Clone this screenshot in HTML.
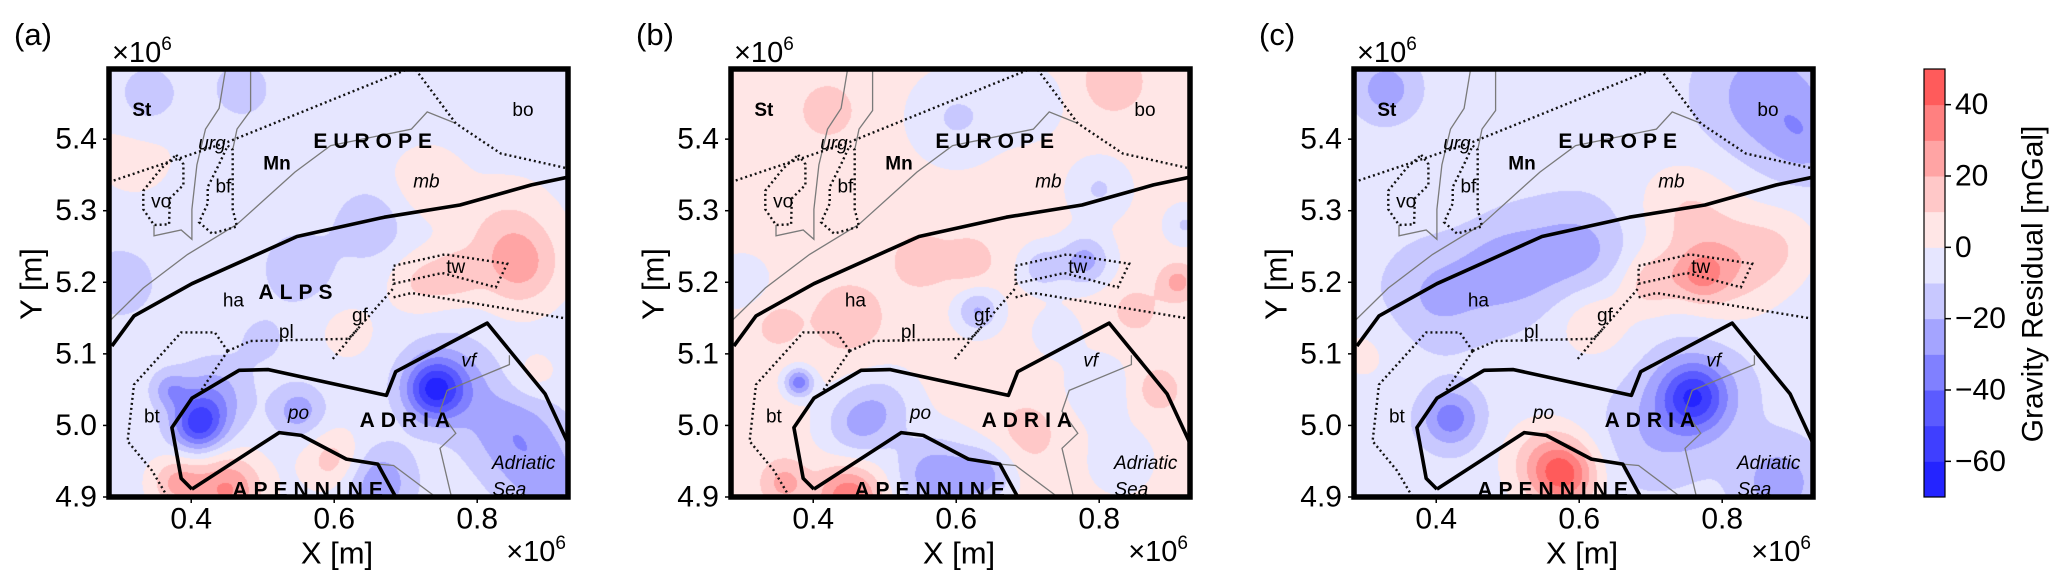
<!DOCTYPE html>
<html><head><meta charset="utf-8"><style>
html,body{margin:0;padding:0;background:#fff;}
#wrap{position:relative;width:2067px;height:586px;overflow:hidden;font-family:"Liberation Sans",sans-serif;}
canvas{position:absolute;}
svg{position:absolute;left:0;top:0;}
</style></head><body>
<div id="wrap">
<svg id="svg" width="2067" height="586"></svg>
</div>
<script>
// ---- field data (blobs: x [1e6 m], y [1e6 m], amplitude [mGal], radius [1e6 m]) ----
const aBase = -4;
const aX   = [0.32,0.86,0.84,0.73,0.72,0.77,0.74,0.76,0.41,0.43,0.55,0.45,0.38,0.60,0.66,0.85,0.90,0.37,0.55,0.65,0.30,0.34,0.47,0.88,0.62,0.50];
const aY   = [5.38,5.22,5.27,5.34,5.20,5.21,5.05,5.06,5.00,5.04,5.02,4.91,4.92,4.95,4.92,4.99,4.92,5.05,5.22,5.28,5.20,5.46,5.47,5.07,5.13,5.12];
const aAmp = [6,22,14,12,15,15,-45,-20,-45,-22,-22,35,25,20,-25,-22,-18,-20,-14,-14,-14,-15,-12,10,8,-8];
const aR   = [0.06,0.04,0.05,0.035,0.03,0.025,0.028,0.045,0.026,0.035,0.025,0.035,0.025,0.03,0.035,0.045,0.045,0.018,0.035,0.035,0.035,0.03,0.03,0.025,0.03,0.03];

const bBase = 4;
const bX   = [0.60,0.70,0.80,0.78,0.72,0.63,0.38,0.46,0.50,0.57,0.64,0.45,0.36,0.91,0.85,0.45,0.55,0.82,0.42,0.92,0.80,0.83,0.70,0.88,0.30,0.62,0.35,0.74];
const bY   = [5.43,5.45,5.33,5.23,5.22,5.16,5.06,5.00,5.03,4.93,4.93,4.90,4.92,5.20,5.16,5.15,5.23,5.48,5.44,5.28,5.05,4.95,4.99,5.05,5.20,5.23,5.14,5.13];
const bAmp = [-15,-12,-15,-28,-20,-25,-40,-22,-15,-30,-25,35,20,20,10,14,12,15,15,-15,-12,-10,10,12,-10,12,10,-10];
const bR   = [0.045,0.035,0.03,0.025,0.022,0.022,0.014,0.035,0.035,0.04,0.028,0.03,0.022,0.018,0.025,0.035,0.03,0.03,0.025,0.02,0.035,0.035,0.035,0.025,0.03,0.025,0.025,0.025];

const cBase = -6;
const cX   = [0.86,0.92,0.33,0.75,0.81,0.88,0.77,0.70,0.62,0.50,0.60,0.40,0.76,0.76,0.42,0.58,0.55,0.88,0.70,0.30,0.42];
const cY   = [5.46,5.40,5.47,5.30,5.22,5.25,5.21,5.20,5.15,5.22,5.24,5.18,5.04,5.04,5.01,4.93,4.95,4.92,4.98,5.10,5.35];
const cAmp = [-20,-15,-20,15,20,12,25,20,15,-18,-18,-15,-40,-15,-30,40,20,-20,-10,8,6];
const cR   = [0.06,0.04,0.03,0.05,0.05,0.04,0.025,0.03,0.04,0.05,0.05,0.05,0.032,0.055,0.028,0.032,0.04,0.04,0.05,0.04,0.04];

// colour levels
const levelEdges = [-70,-60,-50,-40,-30,-20,-10,0,10,20,30,40,50];
const levelColors = ['#2424ff','#3f3fff','#5b5bff','#8080ff','#a4a4ff','#c8c8ff','#e6e6ff','#ffe6e6','#ffc8c8','#ffa4a4','#ff8080','#ff5b5b'];
const cbTicks = [40,20,0,-20,-40,-60];
const xTicks = [0.4,0.6,0.8];
const yTicks = [5.4,5.3,5.2,5.1,5.0,4.9];

// ---- map overlays (data coords) ----
const alpsFront = [[0.289,5.111],[0.320,5.153],[0.401,5.198],[0.548,5.264],[0.670,5.291],[0.776,5.308],[0.876,5.336],[0.927,5.347]];
const adriaLine = [[0.401,4.911],[0.386,4.926],[0.373,4.997],[0.401,5.038],[0.467,5.077],[0.508,5.078],[0.673,5.042],[0.686,5.075],[0.814,5.143],[0.895,5.044],[0.927,4.975]];
const apennLine = [[0.401,4.911],[0.523,4.990],[0.554,4.986],[0.617,4.953],[0.661,4.946],[0.686,4.900]];
const dotLines = [
 [[0.285,5.340],[0.451,5.396],[0.701,5.497]],
 [[0.714,5.497],[0.770,5.422],[0.833,5.380],[0.927,5.359]],
 [[0.379,5.378],[0.389,5.365],[0.389,5.336],[0.370,5.317],[0.369,5.281],[0.348,5.280],[0.333,5.302],[0.333,5.328],[0.358,5.359],[0.379,5.378]],
 [[0.451,5.391],[0.458,5.385],[0.458,5.302],[0.464,5.278],[0.429,5.268],[0.411,5.284],[0.423,5.310],[0.423,5.333],[0.439,5.365],[0.451,5.391]],
 [[0.683,5.223],[0.755,5.239],[0.842,5.226],[0.826,5.193],[0.751,5.213],[0.683,5.198],[0.683,5.223]],
 [[0.598,5.093],[0.633,5.135],[0.683,5.192]],
 [[0.683,5.179],[0.708,5.185],[0.927,5.149]],
 [[0.451,5.104],[0.483,5.118],[0.620,5.121],[0.633,5.135]],
 [[0.451,5.104],[0.433,5.130],[0.386,5.130],[0.320,5.057],[0.311,4.978],[0.345,4.937],[0.367,4.900]],
 [[0.451,5.104],[0.414,5.049]]
];
const greyLines = [
 [[0.448,5.497],[0.439,5.443],[0.420,5.414],[0.408,5.364],[0.401,5.302],[0.401,5.260],[0.386,5.273],[0.348,5.265],[0.348,5.280]],
 [[0.483,5.497],[0.483,5.440],[0.464,5.414],[0.458,5.385]],
 [[0.464,5.281],[0.395,5.239],[0.333,5.192],[0.285,5.145]],
 [[0.464,5.281],[0.545,5.354],[0.595,5.391],[0.708,5.414],[0.730,5.438],[0.770,5.422]],
 [[0.845,5.098],[0.845,5.085],[0.758,5.049],[0.748,5.020],[0.770,4.989],[0.748,4.968],[0.764,4.900]],
 [[0.661,4.946],[0.683,4.944],[0.742,4.900]]
];
const mapLabels = [
 ['St',0.331,5.440,'b'],['urg',0.429,5.393,'i'],['EUROPE',0.658,5.397,'B'],['Mn',0.520,5.365,'b'],['bo',0.864,5.440,'n'],
 ['vo',0.358,5.312,'n'],['bf',0.445,5.333,'n'],['mb',0.729,5.340,'i'],['tw',0.770,5.221,'n'],['ALPS',0.550,5.186,'B'],
 ['ha',0.459,5.174,'n'],['gf',0.636,5.153,'n'],['pl',0.533,5.130,'n'],['vf',0.788,5.090,'i'],['bt',0.345,5.012,'n'],
 ['po',0.550,5.017,'i'],['ADRIA',0.703,5.007,'B'],['Adriatic',0.865,4.947,'i'],['Sea',0.845,4.910,'i'],['APENNINE',0.567,4.910,'B']
];

const panels = [
 {off:0,   tag:'(a)', name:'a', base:aBase, X:aX, Y:aY, A:aAmp, R:aR, alps:true},
 {off:622, tag:'(b)', name:'b', base:bBase, X:bX, Y:bY, A:bAmp, R:bR, alps:false},
 {off:1245,tag:'(c)', name:'c', base:cBase, X:cX, Y:cY, A:cAmp, R:cR, alps:false}
];

const X0=0.285, X1=0.927, Y0=4.9, Y1=5.498;
const PL=109, PR=568, PT=69, PB=497;
const xs = v => PL + (v-X0)/(X1-X0)*(PR-PL);
const ys = v => PB - (v-Y0)/(Y1-Y0)*(PB-PT);
const NS='http://www.w3.org/2000/svg';
const svg=document.getElementById('svg');
const wrap=document.getElementById('wrap');
function el(tag,attrs,parent){const e=document.createElementNS(NS,tag);for(const k in attrs)e.setAttribute(k,attrs[k]);(parent||svg).appendChild(e);return e;}
function hex(c){return [parseInt(c.substr(1,2),16),parseInt(c.substr(3,2),16),parseInt(c.substr(5,2),16)];}
const rgb=levelColors.map(hex);

const defs=el('defs',{});
panels.forEach(p=>{
  const W=PR-PL, H=PB-PT;
  const cv=document.createElement('canvas');
  cv.width=W;cv.height=H;cv.style.left=(PL+p.off)+'px';cv.style.top=PT+'px';
  
  
  wrap.insertBefore(cv,svg);
  const ctx=cv.getContext('2d');const img=ctx.createImageData(W,H);
  for(let j=0;j<H;j++){const yv=Y1-(j+0.5)/H*(Y1-Y0);
    for(let i=0;i<W;i++){const xv=X0+(i+0.5)/W*(X1-X0);
      let v=p.base;
      for(let k=0;k<p.X.length;k++){const dx=xv-p.X[k],dy=yv-p.Y[k];v+=p.A[k]*Math.exp(-(dx*dx+dy*dy)/(2*p.R[k]*p.R[k]));}
      let li=Math.floor((v-levelEdges[0])/10);if(li<0)li=0;if(li>11)li=11;
      const c=rgb[li],o=(j*W+i)*4;img.data[o]=c[0];img.data[o+1]=c[1];img.data[o+2]=c[2];img.data[o+3]=255;}}
  ctx.putImageData(img,0,0);

  const cp=el('clipPath',{id:'clip'+p.name},defs);
  el('rect',{x:PL+p.off,y:PT,width:PR-PL,height:PB-PT},cp);
  const g=el('g',{'clip-path':'url(#clip'+p.name+')'});
  
  
  const pts=arr=>arr.map(q=>(xs(q[0])+p.off).toFixed(1)+','+ys(q[1]).toFixed(1)).join(' ');
  greyLines.forEach(l=>{const e=el('polyline',{points:pts(l),fill:'none',stroke:'#7a7a7a','stroke-width':1.3},g);
    });
  dotLines.forEach(l=>{const e=el('polyline',{points:pts(l),fill:'none',stroke:'#111','stroke-width':2.4,'stroke-dasharray':'2 3'},g);
    });
  [alpsFront,adriaLine,apennLine].forEach(l=>{const e=el('polyline',{points:pts(l),fill:'none',stroke:'#000','stroke-width':3.6,'stroke-linejoin':'round'},g);
    });
  mapLabels.forEach(L=>{
    if(L[0]==='ALPS'&&!p.alps)return;
    const t=el('text',{x:xs(L[1])+p.off,y:ys(L[2]),'text-anchor':'middle','dominant-baseline':'central','font-size':L[3]==='B'?21:19,fill:'#000'},g);
    if(L[3]==='B'){t.setAttribute('font-weight','bold');t.setAttribute('letter-spacing','6');}
    if(L[3]==='b')t.setAttribute('font-weight','bold');
    if(L[3]==='i')t.setAttribute('font-style','italic');
    t.textContent=L[0];
    
    
  });
  const fr=el('rect',{x:PL+p.off,y:PT,width:PR-PL,height:PB-PT,fill:'none',stroke:'#000','stroke-width':5.5});
  
  xTicks.forEach(v=>{const x=xs(v)+p.off;
    el('line',{x1:x,x2:x,y1:PB,y2:PB+6,stroke:'#000','stroke-width':1.5});
    const t=el('text',{x:x,y:519,'text-anchor':'middle','dominant-baseline':'central','font-size':30});t.textContent=v.toFixed(1);
    });
  yTicks.forEach(v=>{const y=ys(v);
    el('line',{x1:PL+p.off-6,x2:PL+p.off,y1:y,y2:y,stroke:'#000','stroke-width':1.5});
    const t=el('text',{x:PL+p.off-12,y:y,'text-anchor':'end','dominant-baseline':'central','font-size':30});t.textContent=v.toFixed(1);
    });
  let t=el('text',{x:14+p.off,y:45,'font-size':31});t.textContent=p.tag;
  
  t=el('text',{x:112+p.off,y:62,'font-size':29});t.innerHTML='×10<tspan font-size="19" dy="-12">6</tspan>';
  
  t=el('text',{x:566+p.off,y:561,'font-size':29,'text-anchor':'end'});t.innerHTML='×10<tspan font-size="19" dy="-12">6</tspan>';
  
  t=el('text',{x:337+p.off,y:553,'font-size':31,'text-anchor':'middle','dominant-baseline':'central'});t.textContent='X [m]';
  
  t=el('text',{x:0,y:0,'font-size':31,'text-anchor':'middle','dominant-baseline':'central',transform:'translate('+(31+p.off)+',284) rotate(-90)'});t.textContent='Y [m]';
  
});

const CBX=1924, CBW=21, cbY=v=>PB-(v-levelEdges[0])/(levelEdges[12]-levelEdges[0])*(PB-PT);
levelColors.forEach((c,i)=>{
  const r=el('rect',{x:CBX,y:cbY(levelEdges[i+1]),width:CBW,height:cbY(levelEdges[i])-cbY(levelEdges[i+1])+0.5,fill:c});
  
});
el('rect',{x:CBX,y:PT,width:CBW,height:PB-PT,fill:'none',stroke:'#000','stroke-width':1.2});
cbTicks.forEach(v=>{const y=cbY(v);
  el('line',{x1:CBX+CBW,x2:CBX+CBW+6,y1:y,y2:y,stroke:'#000','stroke-width':1.5});
  const t=el('text',{x:1955,y:y,'dominant-baseline':'central','font-size':30});t.textContent=(v<0?'\u2212':'')+Math.abs(v);
  });
const ct=el('text',{x:0,y:0,'font-size':30,'text-anchor':'middle','dominant-baseline':'central',transform:'translate(2033,284) rotate(-90)'});
ct.textContent='Gravity Residual [mGal]';


</script>
</body></html>
